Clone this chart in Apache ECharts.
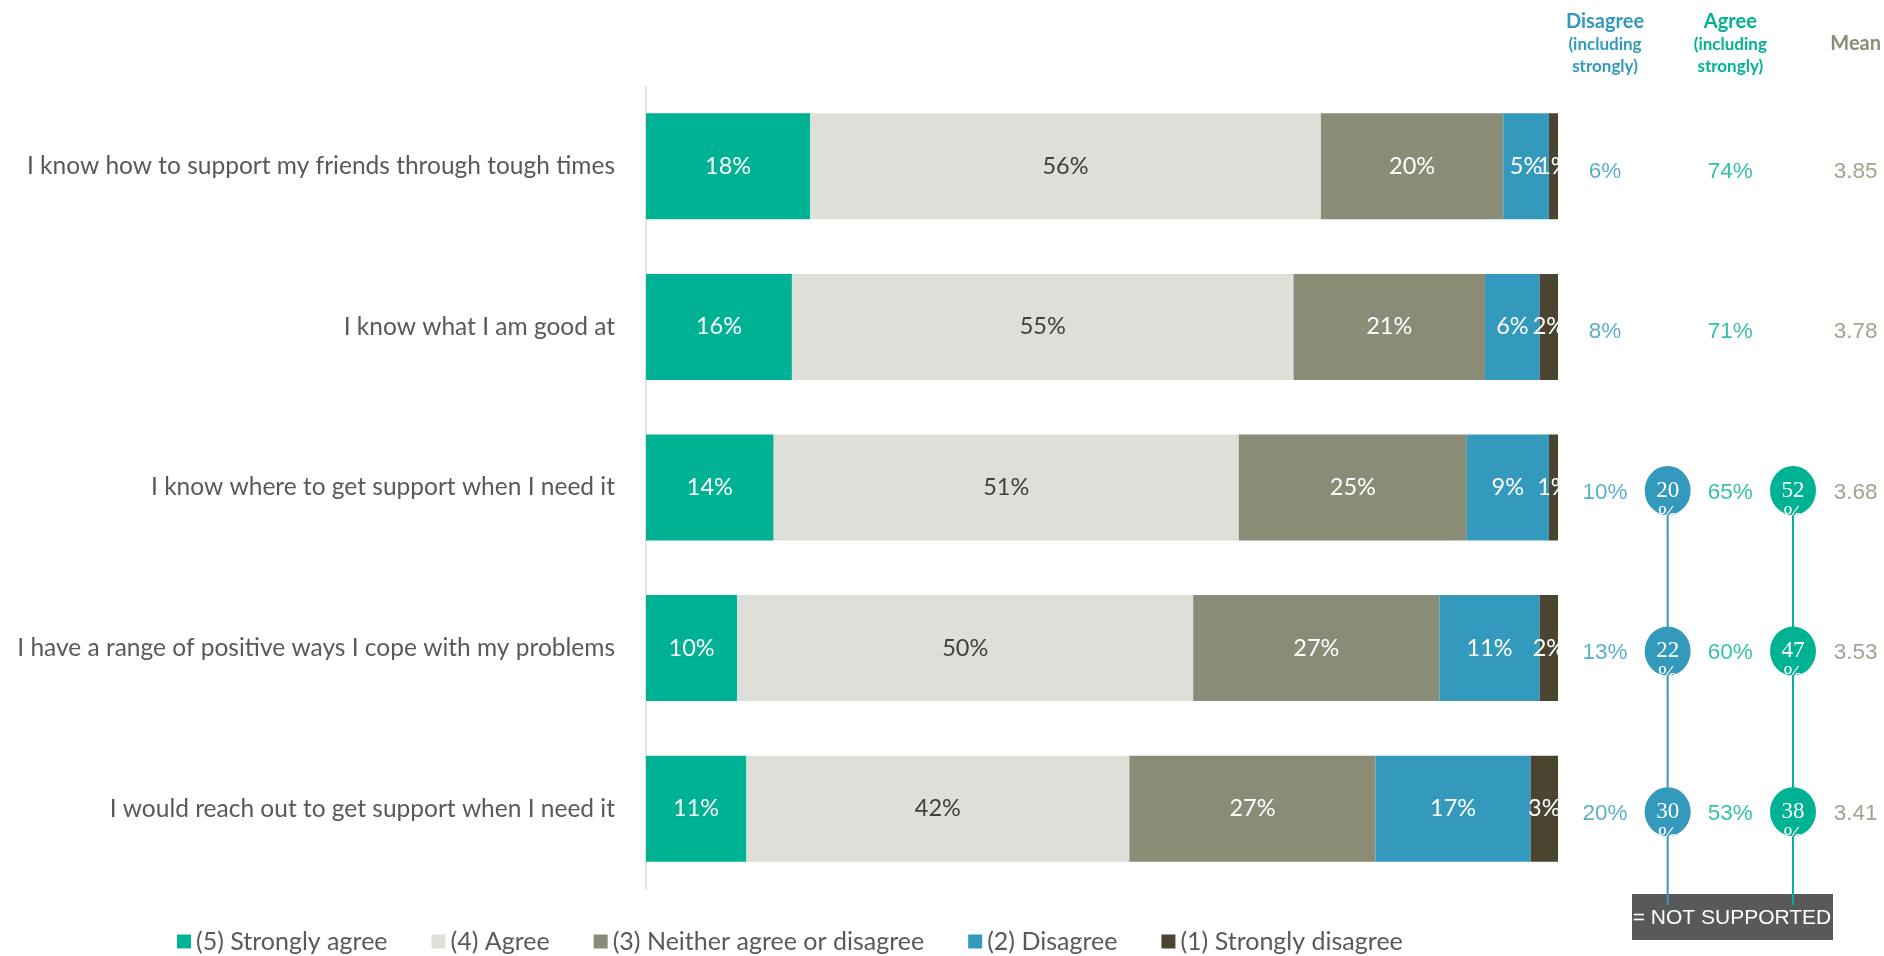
<!DOCTYPE html>
<html>
<head>
<meta charset="utf-8">
<script src="https://cdn.jsdelivr.net/npm/echarts@6/dist/echarts.min.js"></script>
<style>
	html, body { margin: 0; padding: 0; background: #fff; }
	#main { width: 1884px; height: 956px; }
</style>
</head>
<body>
<div id="main"></div>
<script>
	var categories = [
		'I know how to support my friends through tough times',
		'I know what I am good at',
		'I know where to get support when I need it',
		'I have a range of positive ways I cope with my problems',
		'I would reach out to get support when I need it'
	];
	var seriesNames = ['(5) Strongly agree', '(4) Agree', '(3) Neither agree or disagree', '(2) Disagree', '(1) Strongly disagree'];
	var strongAgree = [18, 16, 14, 10, 11];
	var agree = [56, 55, 51, 50, 42];
	var neither = [20, 21, 25, 27, 27];
	var disagree = [5, 6, 9, 11, 17];
	var strongDisagree = [1, 2, 1, 2, 3];

	var disagreeTotal = [6, 8, 10, 13, 20];
	var agreeTotal = [74, 71, 65, 60, 53];
	var means = ['3.85', '3.78', '3.68', '3.53', '3.41'];
	var notSupportedDisagree = [null, null, 20, 22, 30];
	var notSupportedAgree = [null, null, 52, 47, 38];
	var columnHeaders = ['Disagree', '', 'Agree', '', 'Mean'];

	var colors = ['#00B294', '#DEDFD9', '#8A8C76', '#3399BD', '#4A4430'];
	var labelColors = ['#fff', '#404040', '#fff', '#fff', '#fff'];
	var blue = '#3399BD', green = '#00B294', olive = '#8A8C76';

	var chart = echarts.init(document.getElementById('main'));

	var barData = [strongAgree, agree, neither, disagree, strongDisagree];
	var barSeries = barData.map(function (data, i) {
		return {
			name: seriesNames[i],
			type: 'bar',
			stack: 'total',
			xAxisIndex: 0,
			yAxisIndex: 0,
			barCategoryGap: '34%',
			itemStyle: { color: colors[i] },
			label: {
				show: true,
				position: 'inside',
				formatter: '{c}%',
				color: labelColors[i],
				fontFamily: 'Lato',
				fontSize: 23.5
			},
			data: data
		};
	});

	function textColumn(col, values, color, suffix) {
		return {
			type: 'scatter',
			xAxisIndex: 1,
			yAxisIndex: 1,
			symbolSize: 1,
			itemStyle: { color: 'rgba(0,0,0,0)' },
			label: {
				show: true,
				position: 'inside',
				offset: [0, 5],
				formatter: function (p) { return p.value[2] + suffix; },
				color: color,
				fontFamily: 'Liberation Sans',
				fontSize: 22.5
			},
			data: values.map(function (v, i) { return [col, i, v]; })
		};
	}

	// circles for the "not supported" share, with a line running down to the box
	var lineEnd = categories.length - 0.4;
	function circleColumn(col, values, color) {
		var first = values.findIndex(function (v) { return v !== null; });
		var pts = [];
		values.forEach(function (v, i) { if (v !== null) pts.push([col, i, v]); });
		return [{
			type: 'line',
			xAxisIndex: 1,
			yAxisIndex: 1,
			symbol: 'none',
			clip: false,
			z: 1,
			lineStyle: { color: color, width: 2 },
			data: [[col, first], [col, lineEnd]]
		}, {
			type: 'scatter',
			xAxisIndex: 1,
			yAxisIndex: 1,
			symbolSize: [46, 49],
			symbolOffset: [0, 3],
			z: 3,
			itemStyle: { color: color, opacity: 1 },
			label: {
				show: true,
				position: 'inside',
				offset: [0, 12],
				formatter: function (p) { return p.value[2] + '\n%'; },
				color: '#fff',
				fontFamily: 'Liberation Serif',
				fontSize: 23,
				lineHeight: 24
			},
			data: pts
		}];
	}

	var option = {
		animation: false,
		backgroundColor: '#fff',
		legend: {
			data: seriesNames,
			left: 177,
			top: 929,
			padding: 0,
			icon: 'rect',
			itemWidth: 14,
			itemHeight: 14,
			itemGap: 44,
			textStyle: { color: '#595959', fontFamily: 'Lato', fontSize: 25 }
		},
		grid: [
			{ left: 646, right: 326, top: 86, bottom: 67 },
			{ left: 1605, right: 28, top: 86, bottom: 67 }
		],
		xAxis: [{
			gridIndex: 0,
			type: 'value',
			min: 0,
			max: 100,
			show: false
		}, {
			gridIndex: 1,
			type: 'value',
			min: 0,
			max: 4,
			interval: 1,
			position: 'top',
			axisLine: { show: false },
			axisTick: { show: false },
			splitLine: { show: false },
			axisLabel: {
				showMinLabel: true,
				showMaxLabel: true,
				margin: 8,
				formatter: function (v) {
					var h = columnHeaders[v];
					if (v === 0) return '{dh|' + h + '}\n{ds|(including}\n{ds|strongly)}';
					if (v === 2) return '{ah|' + h + '}\n{as|(including}\n{as|strongly)}';
					if (v === 4) return '{mh|' + h + '}\n{ms| }';
					return '';
				},
				rich: {
					dh: { color: blue, fontFamily: 'Lato', fontWeight: 'bold', fontSize: 20, lineHeight: 25 },
					ds: { color: blue, fontFamily: 'Lato', fontWeight: 'bold', fontSize: 17, lineHeight: 22 },
					ah: { color: green, fontFamily: 'Lato', fontWeight: 'bold', fontSize: 20, lineHeight: 25 },
					as: { color: green, fontFamily: 'Lato', fontWeight: 'bold', fontSize: 17, lineHeight: 22 },
					mh: { color: olive, fontFamily: 'Lato', fontWeight: 'bold', fontSize: 20, lineHeight: 25 },
					ms: { color: olive, fontSize: 17, lineHeight: 22 }
				}
			}
		}],
		yAxis: [{
			gridIndex: 0,
			type: 'category',
			inverse: true,
			data: categories,
			axisLine: { show: true, lineStyle: { color: '#D9D9D9', width: 1.5 } },
			axisTick: { show: false },
			axisLabel: {
				margin: 31,
				color: '#595959',
				fontFamily: 'Lato',
				fontSize: 24.5
			}
		}, {
			gridIndex: 1,
			type: 'value',
			inverse: true,
			min: -0.5,
			max: categories.length - 0.5,
			show: false
		}],
		series: barSeries
			.concat([textColumn(0, disagreeTotal, blue, '%'), textColumn(2, agreeTotal, green, '%'), textColumn(4, means, olive, '')])
			.concat(circleColumn(1, notSupportedDisagree, blue))
			.concat(circleColumn(3, notSupportedAgree, green)),
		graphic: [{
			type: 'group',
			left: 1632,
			top: 894,
			z: 10,
			children: [{
				type: 'rect',
				shape: { x: 0, y: 0, width: 201, height: 46 },
				style: { fill: '#595959' }
			}, {
				type: 'text',
				x: 100,
				y: 24,
				style: {
					text: '= NOT SUPPORTED',
					fill: '#fff',
					fontFamily: 'Liberation Sans',
					fontSize: 21,
					align: 'center',
					verticalAlign: 'middle'
				}
			}]
		}]
	};

	chart.setOption(option);
</script>
</body>
</html>
